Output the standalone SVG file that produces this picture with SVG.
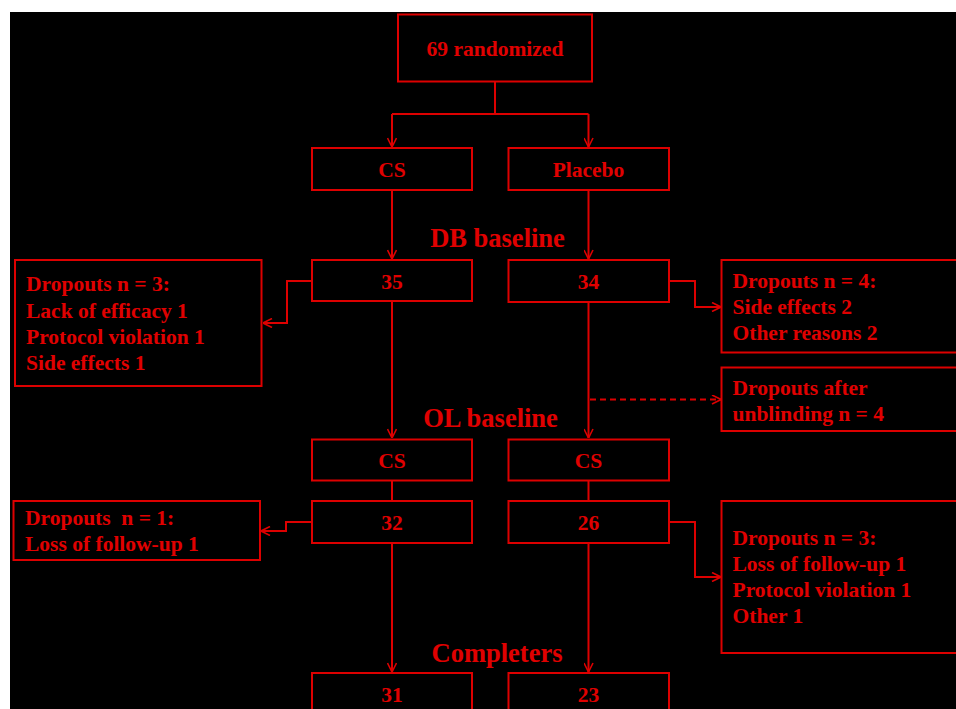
<svg xmlns="http://www.w3.org/2000/svg" width="956" height="709" viewBox="0 0 956 709">
<style>
.box{fill:none;stroke:#dd0000;stroke-width:2}
.ln{fill:none;stroke:#dd0000;stroke-width:2}
.dash{stroke-dasharray:6 4}
text{font-family:"Liberation Serif","Times New Roman",serif;font-weight:bold;fill:#e00000;font-size:21.5px}
.c{text-anchor:middle}
.h{font-size:26.5px}
</style>
<defs>
<marker id="ar" viewBox="0 0 10 10" refX="10" refY="5" markerWidth="10" markerHeight="10" markerUnits="userSpaceOnUse" orient="auto">
<path d="M1,0.5 L10,5 L1,9.5" fill="none" stroke="#dd0000" stroke-width="1.6"/>
</marker>
</defs>
<rect x="0" y="0" width="956" height="709" fill="#ffffff"/>
<rect x="10" y="12" width="946" height="697" fill="#000000"/>

<g id="connectors">
<path class="ln" d="M495,82 V114 M392,114 H588.5"/>
<path class="ln" d="M392,114 V147" marker-end="url(#ar)"/>
<path class="ln" d="M588.5,114 V147" marker-end="url(#ar)"/>
<path class="ln" d="M392,190 V259" marker-end="url(#ar)"/>
<path class="ln" d="M588.5,190 V259" marker-end="url(#ar)"/>
<path class="ln" d="M312,281 H287 V323 H263" marker-end="url(#ar)"/>
<path class="ln" d="M669,281 H695 V307 H721" marker-end="url(#ar)"/>
<path class="ln" d="M392,301 V438" marker-end="url(#ar)"/>
<path class="ln" d="M588.5,302 V438" marker-end="url(#ar)"/>
<path class="ln dash" d="M590,399.5 H721" marker-end="url(#ar)"/>
<path class="ln" d="M392,480 V501 M588.5,480 V501"/>
<path class="ln" d="M312,522 H286 V531 H261" marker-end="url(#ar)"/>
<path class="ln" d="M669,522 H695 V577 H721" marker-end="url(#ar)"/>
<path class="ln" d="M392,543 V672" marker-end="url(#ar)"/>
<path class="ln" d="M588.5,543 V672" marker-end="url(#ar)"/>
</g>

<g id="randomized"><rect class="box" x="398" y="14.5" width="194" height="67"/><text class="c" x="495" y="56">69 randomized</text></g>
<g id="cs1"><rect class="box" x="312" y="148" width="160" height="42"/><text class="c" x="392" y="177">CS</text></g>
<g id="placebo"><rect class="box" x="508.5" y="148" width="160.5" height="42"/><text class="c" x="588.5" y="177">Placebo</text></g>

<g id="db-label"><text class="c h" x="497.5" y="247">DB baseline</text></g>

<g id="n35"><rect class="box" x="312" y="260" width="160" height="41"/><text class="c" x="392" y="289">35</text></g>
<g id="n34"><rect class="box" x="508.5" y="260" width="160.5" height="42"/><text class="c" x="588.5" y="289">34</text></g>

<g id="drop-left1"><rect class="box" x="15" y="260" width="246.5" height="126"/>
<text x="26" y="291">Dropouts n = 3:</text>
<text x="26" y="317.5">Lack of efficacy 1</text>
<text x="26" y="344">Protocol violation 1</text>
<text x="26" y="370">Side effects 1</text></g>

<g id="drop-right1"><rect class="box" x="721.5" y="260" width="260" height="92.5"/>
<text x="732.5" y="288">Dropouts n = 4:</text>
<text x="732.5" y="314">Side effects 2</text>
<text x="732.5" y="340">Other reasons 2</text></g>

<g id="drop-unblind"><rect class="box" x="721.5" y="367.5" width="260" height="63.5"/>
<text x="732.5" y="394.5">Dropouts after</text>
<text x="732.5" y="420.5">unblinding n = 4</text></g>

<g id="ol-label"><text class="c h" x="490.5" y="427">OL baseline</text></g>

<g id="cs2"><rect class="box" x="312" y="439.5" width="160" height="41"/><text class="c" x="392" y="468">CS</text></g>
<g id="cs3"><rect class="box" x="508.5" y="439.5" width="160.5" height="41"/><text class="c" x="588.5" y="468">CS</text></g>

<g id="n32"><rect class="box" x="312" y="501" width="160" height="42"/><text class="c" x="392" y="530">32</text></g>
<g id="n26"><rect class="box" x="508.5" y="501" width="160.5" height="42"/><text class="c" x="588.5" y="530">26</text></g>

<g id="drop-left2"><rect class="box" x="13.5" y="501" width="246.5" height="59"/>
<text x="25" y="525" xml:space="preserve">Dropouts  n = 1:</text>
<text x="25" y="551">Loss of follow-up 1</text></g>

<g id="drop-right2"><rect class="box" x="721.5" y="501" width="260" height="152"/>
<text x="732.5" y="545">Dropouts n = 3:</text>
<text x="732.5" y="571">Loss of follow-up 1</text>
<text x="732.5" y="597">Protocol violation 1</text>
<text x="732.5" y="623">Other 1</text></g>

<g id="completers-label"><text class="c h" x="497" y="662">Completers</text></g>

<g id="n31"><rect class="box" x="312" y="673" width="160" height="60"/><text class="c" x="392" y="702">31</text></g>
<g id="n23"><rect class="box" x="508.5" y="673" width="160.5" height="60"/><text class="c" x="588.5" y="702">23</text></g>
</svg>
